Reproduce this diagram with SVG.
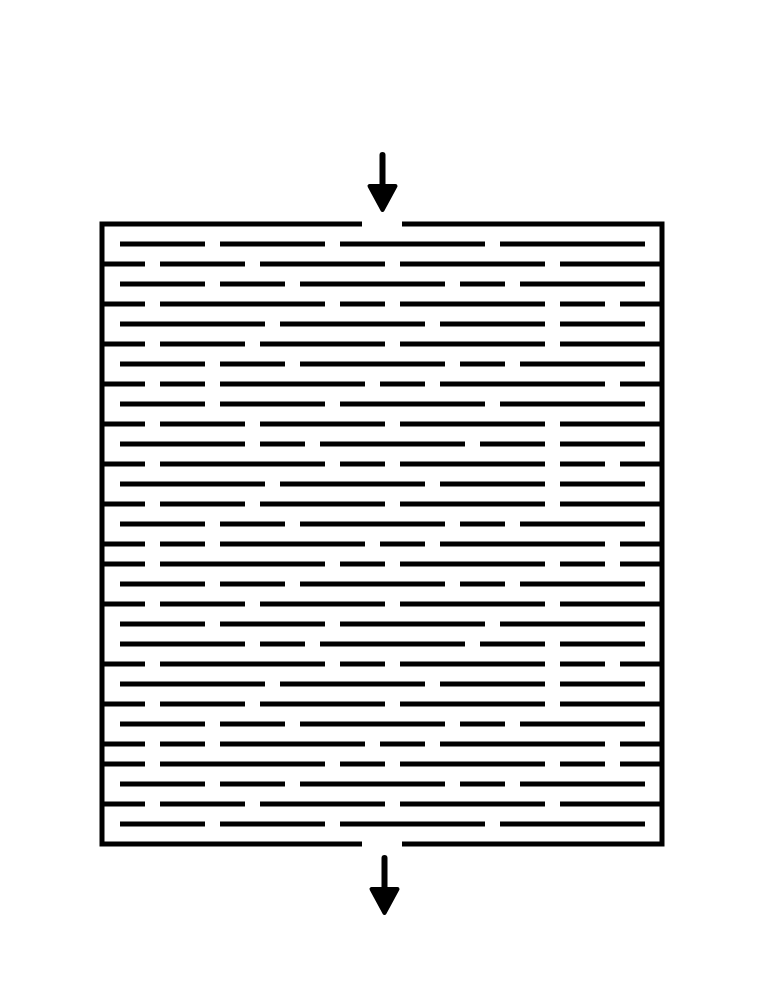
<svg xmlns="http://www.w3.org/2000/svg" width="765" height="990" viewBox="0 0 765 990">
<style>
.w{stroke:#000;stroke-width:5;fill:none;stroke-linecap:butt}
.b{stroke:#000;stroke-width:5;fill:none;stroke-linejoin:miter}
.s{stroke:#000;stroke-width:6;fill:none;stroke-linecap:round}
.h{fill:#000;stroke:#000;stroke-width:4;stroke-linejoin:round}
</style>
<rect width="765" height="990" fill="#fff"/>
<g id="maze">
<path class="b" d="M362,224 H102 V844 H362 M402,224 H662 V844 H402"/>
<path class="w" d="
M120,244H205M220,244H325M340,244H485M500,244H645
M102,264H145M160,264H245M260,264H385M400,264H545M560,264H662
M120,284H205M220,284H285M300,284H445M460,284H505M520,284H645
M102,304H145M160,304H325M340,304H385M400,304H545M560,304H605M620,304H662
M120,324H265M280,324H425M440,324H545M560,324H645
M102,344H145M160,344H245M260,344H385M400,344H545M560,344H662
M120,364H205M220,364H285M300,364H445M460,364H505M520,364H645
M102,384H145M160,384H205M220,384H365M380,384H425M440,384H605M620,384H662
M120,404H205M220,404H325M340,404H485M500,404H645
M102,424H145M160,424H245M260,424H385M400,424H545M560,424H662
M120,444H245M260,444H305M320,444H465M480,444H545M560,444H645
M102,464H145M160,464H325M340,464H385M400,464H545M560,464H605M620,464H662
M120,484H265M280,484H425M440,484H545M560,484H645
M102,504H145M160,504H245M260,504H385M400,504H545M560,504H662
M120,524H205M220,524H285M300,524H445M460,524H505M520,524H645
M102,544H145M160,544H205M220,544H365M380,544H425M440,544H605M620,544H662
M102,564H145M160,564H325M340,564H385M400,564H545M560,564H605M620,564H662
M120,584H205M220,584H285M300,584H445M460,584H505M520,584H645
M102,604H145M160,604H245M260,604H385M400,604H545M560,604H662
M120,624H205M220,624H325M340,624H485M500,624H645
M120,644H245M260,644H305M320,644H465M480,644H545M560,644H645
M102,664H145M160,664H325M340,664H385M400,664H545M560,664H605M620,664H662
M120,684H265M280,684H425M440,684H545M560,684H645
M102,704H145M160,704H245M260,704H385M400,704H545M560,704H662
M120,724H205M220,724H285M300,724H445M460,724H505M520,724H645
M102,744H145M160,744H205M220,744H365M380,744H425M440,744H605M620,744H662
M102,764H145M160,764H325M340,764H385M400,764H545M560,764H605M620,764H662
M120,784H205M220,784H285M300,784H445M460,784H505M520,784H645
M102,804H145M160,804H245M260,804H385M400,804H545M560,804H662
M120,824H205M220,824H325M340,824H485M500,824H645"/>
</g>
<g id="connectors">
<g id="arrow-in">
<line class="s" x1="382.5" y1="155" x2="382.5" y2="188"/>
<polygon class="h" points="369.5,186 395.5,186 382.5,210"/>
</g>
<g id="arrow-out">
<line class="s" x1="384.5" y1="858" x2="384.5" y2="891"/>
<polygon class="h" points="371.5,889 397.5,889 384.5,913"/>
</g>
</g>
</svg>
